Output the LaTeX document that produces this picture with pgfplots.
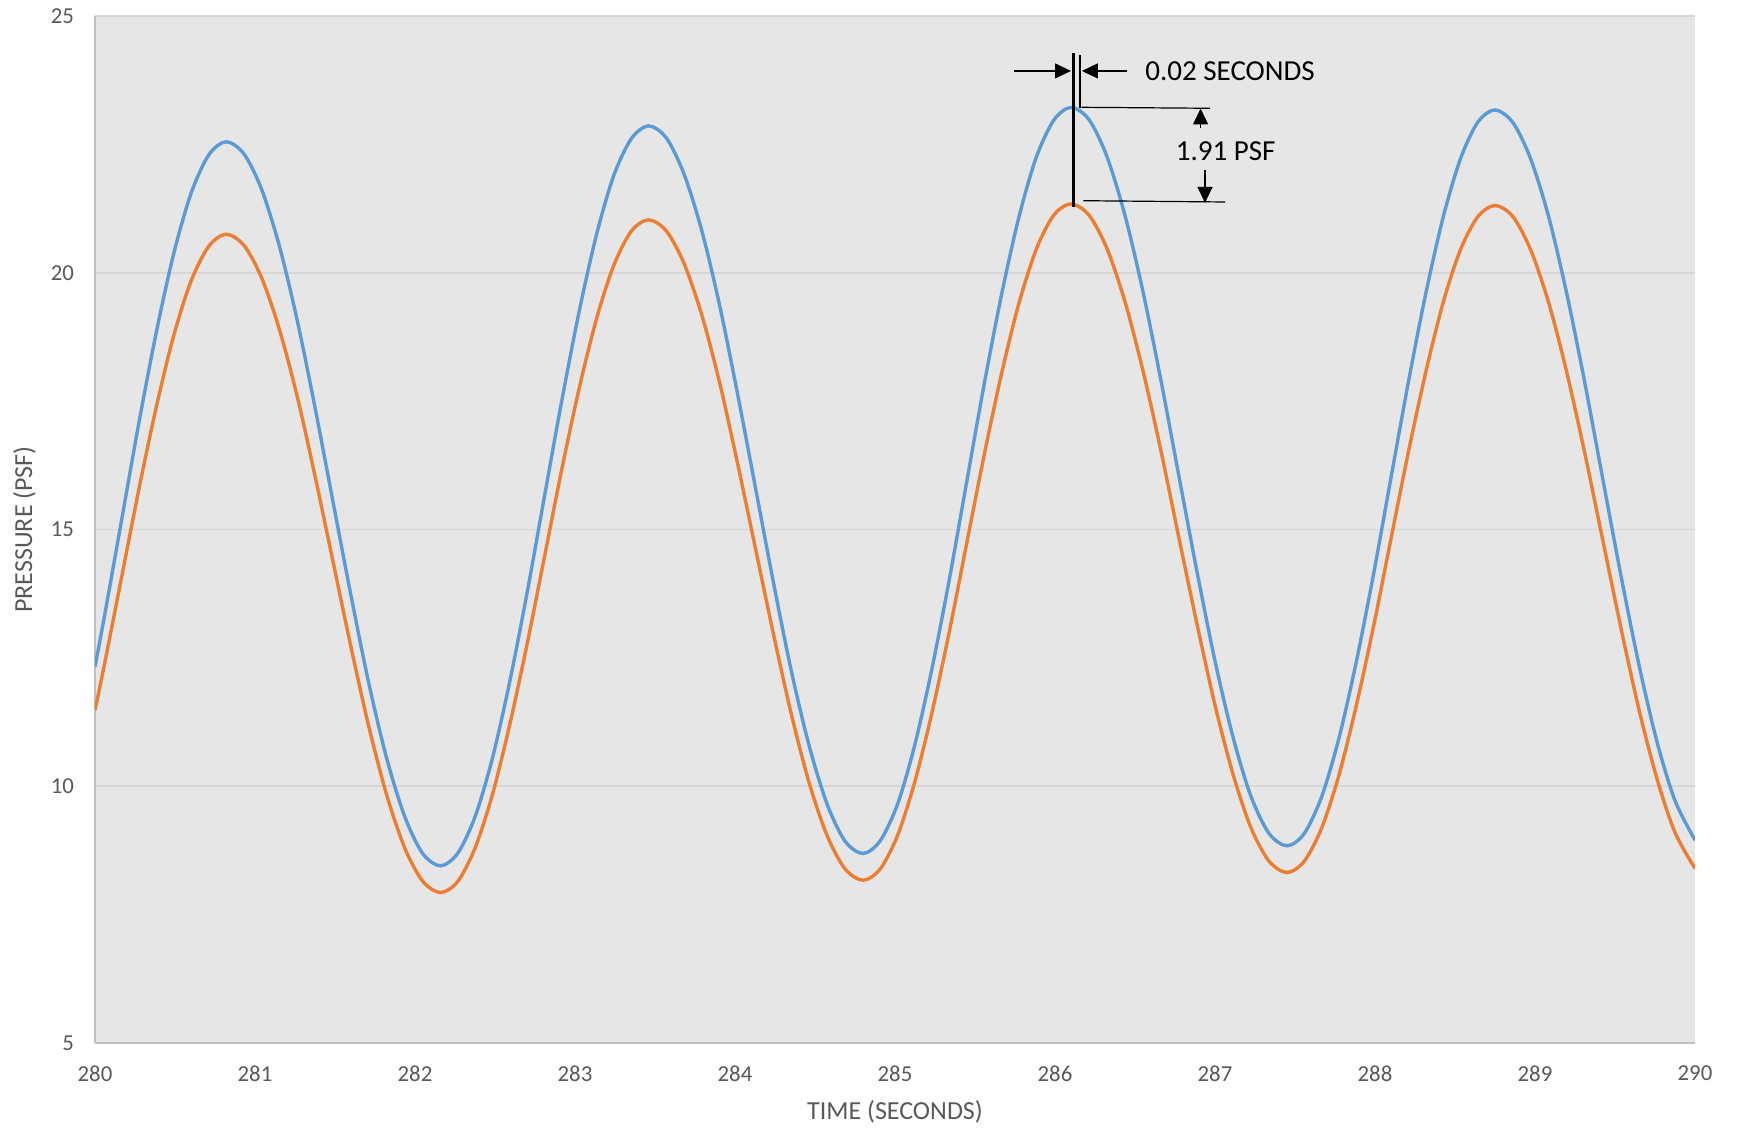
\documentclass[border=0pt]{standalone}
\usepackage{fontspec}
\setmainfont{Carlito}
\usepackage{pgfplots}
\pgfplotsset{compat=1.18}
\usetikzlibrary{arrows.meta}

\definecolor{seriesblue}{HTML}{5B9BD5}
\definecolor{seriesorange}{HTML}{ED7D31}
\definecolor{plotbg}{HTML}{E6E6E6}
\definecolor{gridgray}{HTML}{D6D6D6}
\definecolor{axisgray}{HTML}{BFBFBF}
\definecolor{textgray}{HTML}{595959}

\begin{document}
\begin{tikzpicture}
\begin{axis}[
    scale only axis,
    width=800pt,
    height=513.5pt,
    xmin=280, xmax=290,
    ymin=5, ymax=25,
    enlargelimits=false,
    xtick={280,281,...,290},
    ytick={5,10,15,20,25},
    axis x line=bottom,
    axis y line=left,
    axis line style={-, draw=axisgray, line width=1pt},
    major tick length=0pt,
    ymajorgrids,
    grid style={gridgray, line width=0.8pt},
    axis background/.style={fill=plotbg},
    /pgf/number format/assume math mode=true,
    tick label style={font=\fontsize{11.4}{13}\selectfont, text=textgray},
    xticklabel style={yshift=-8pt},
    yticklabel style={xshift=-7pt},
    xlabel={TIME (SECONDS)},
    ylabel={PRESSURE (PSF)},
    label style={font=\fontsize{13}{15}\selectfont, text=textgray},
    x label style={at={(axis description cs:0.5,-0.0668)}, anchor=center},
    y label style={at={(axis description cs:-0.0441,0.5)}, anchor=center, rotate=0},
]

% orange series
\addplot[seriesorange, line width=1.7pt, smooth] coordinates {
    (280.000,11.48) (280.062,12.42) (280.170,14.13) (280.278,15.84) (280.387,17.44)
    (280.495,18.81) (280.603,19.86) (280.712,20.52) (280.820,20.75)
    (280.932,20.53) (281.043,19.89) (281.155,18.87) (281.267,17.55) (281.378,16.00)
    (281.490,14.34) (281.602,12.68) (281.713,11.14) (281.825,9.81) (281.937,8.79)
    (282.048,8.15) (282.160,7.93)
    (282.268,8.15) (282.377,8.81) (282.485,9.85) (282.593,11.21) (282.702,12.79)
    (282.810,14.48) (282.918,16.18) (283.027,17.76) (283.135,19.11) (283.243,20.15)
    (283.352,20.81) (283.460,21.03)
    (283.572,20.81) (283.683,20.17) (283.795,19.15) (283.907,17.82) (284.018,16.26)
    (284.130,14.60) (284.242,12.94) (284.353,11.39) (284.465,10.05) (284.577,9.03)
    (284.688,8.39) (284.800,8.17)
    (284.908,8.39) (285.017,9.05) (285.125,10.10) (285.233,11.46) (285.342,13.05)
    (285.450,14.76) (285.558,16.46) (285.667,18.05) (285.775,19.41) (285.883,20.46)
    (285.992,21.12) (286.100,21.34)
    (286.213,21.12) (286.325,20.47) (286.438,19.43) (286.550,18.09) (286.663,16.52)
    (286.775,14.83) (286.888,13.15) (287.000,11.58) (287.113,10.23) (287.225,9.19)
    (287.338,8.54) (287.450,8.32)
    (287.558,8.54) (287.667,9.19) (287.775,10.22) (287.883,11.57) (287.992,13.13)
    (288.100,14.82) (288.208,16.50) (288.317,18.06) (288.425,19.41) (288.533,20.44)
    (288.642,21.09) (288.750,21.31)
    (288.863,21.09) (288.975,20.43) (289.088,19.39) (289.200,18.04) (289.313,16.46)
    (289.425,14.77) (289.538,13.07) (289.650,11.49) (289.763,10.14) (289.875,9.10)
    (290.000,8.40)
};

% blue series
\addplot[seriesblue, line width=1.7pt, smooth] coordinates {
    (280.000,12.33) (280.062,13.36) (280.170,15.25) (280.278,17.14) (280.387,18.90)
    (280.495,20.41) (280.603,21.57) (280.712,22.30) (280.820,22.55)
    (280.932,22.31) (281.043,21.61) (281.155,20.49) (281.267,19.03) (281.378,17.33)
    (281.490,15.50) (281.602,13.68) (281.713,11.98) (281.825,10.52) (281.937,9.40)
    (282.048,8.69) (282.160,8.45)
    (282.268,8.70) (282.377,9.42) (282.485,10.56) (282.593,12.05) (282.702,13.79)
    (282.810,15.66) (282.918,17.52) (283.027,19.26) (283.135,20.75) (283.243,21.90)
    (283.352,22.61) (283.460,22.86)
    (283.572,22.62) (283.683,21.91) (283.795,20.79) (283.907,19.32) (284.018,17.61)
    (284.130,15.78) (284.242,13.94) (284.353,12.23) (284.465,10.77) (284.577,9.64)
    (284.688,8.93) (284.800,8.69)
    (284.908,8.94) (285.017,9.66) (285.125,10.82) (285.233,12.32) (285.342,14.07)
    (285.450,15.96) (285.558,17.84) (285.667,19.59) (285.775,21.09) (285.883,22.25)
    (285.992,22.97) (286.100,23.22)
    (286.213,22.98) (286.325,22.26) (286.438,21.11) (286.550,19.63) (286.663,17.89)
    (286.775,16.03) (286.888,14.17) (287.000,12.44) (287.113,10.95) (287.225,9.80)
    (287.338,9.08) (287.450,8.84)
    (287.558,9.08) (287.667,9.80) (287.775,10.94) (287.883,12.42) (287.992,14.15)
    (288.100,16.01) (288.208,17.86) (288.317,19.59) (288.425,21.07) (288.533,22.21)
    (288.642,22.93) (288.750,23.17)
    (288.863,22.92) (288.975,22.20) (289.088,21.06) (289.200,19.57) (289.313,17.83)
    (289.425,15.96) (289.538,14.09) (289.650,12.36) (289.763,10.86) (289.875,9.72)
    (290.000,8.95)
};

% annotation: time offset and pressure difference at the third peak
\draw[black, line width=1.3pt] (axis cs:286.114,24.27) -- (axis cs:286.114,21.29);
\draw[black, line width=1.3pt] (axis cs:286.156,24.24) -- (axis cs:286.156,23.20);
\draw[black, line width=0.6pt, -{Triangle[length=8pt,width=7.5pt]}]
    (axis cs:285.746,23.93) -- (axis cs:286.100,23.93);
\draw[black, line width=0.6pt, -{Triangle[length=8pt,width=7.5pt]}]
    (axis cs:286.448,23.93) -- (axis cs:286.168,23.93);
\node[anchor=west, inner sep=0pt, font=\fontsize{14.5}{17}\selectfont]
    at (axis cs:286.5625,23.93) {0.02 SECONDS};
\draw[black, line width=0.6pt] (axis cs:286.166,23.222) -- (axis cs:286.969,23.203);
\draw[black, line width=0.6pt] (axis cs:286.177,21.403) -- (axis cs:287.0625,21.378);
\draw[black, line width=0.6pt, -{Triangle[length=8pt,width=7.5pt]}]
    (axis cs:286.910,22.81) -- (axis cs:286.910,23.20);
\draw[black, line width=0.6pt, -{Triangle[length=8pt,width=7.5pt]}]
    (axis cs:286.9375,22.00) -- (axis cs:286.9375,21.36);
\node[anchor=center, inner sep=0pt, font=\fontsize{14.5}{17}\selectfont]
    at (axis cs:287.067,22.36) {1.91 PSF};

\end{axis}
\pgfresetboundingbox
\path ([xshift=-47.5pt,yshift=-44pt]current axis.south west)
    rectangle ([xshift=21pt,yshift=8pt]current axis.north east);
\end{tikzpicture}
\end{document}
